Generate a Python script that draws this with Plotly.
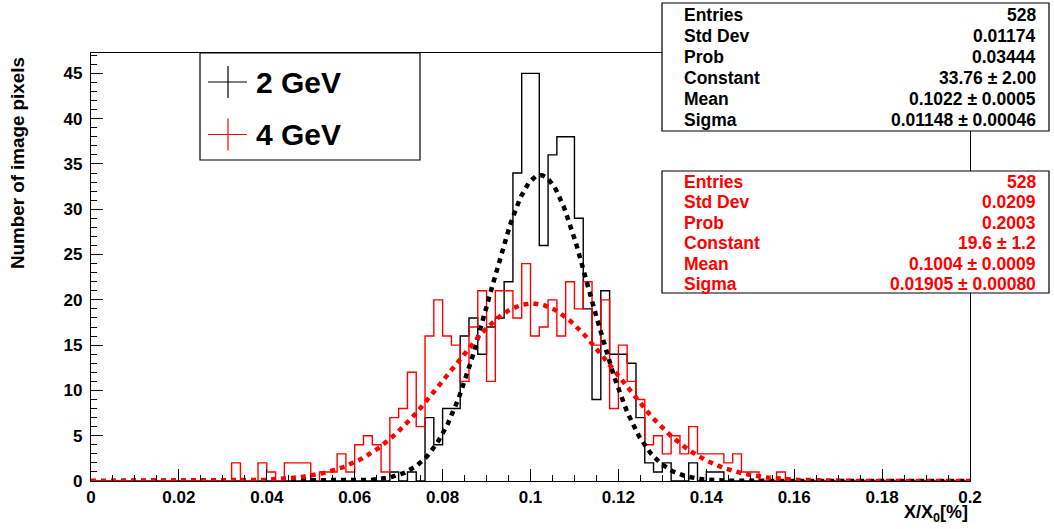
import numpy as np
import plotly.graph_objects as go

# ---------------- data ----------------
bin_lo, bin_hi, n_bins = 0.0, 0.2, 100

counts_2gev = [
    0, 0, 0, 0, 0, 0, 0, 0, 0, 0,
    0, 0, 0, 0, 0, 0, 0, 0, 0, 0,
    0, 0, 0, 0, 0, 0, 0, 0, 0, 0,
    0, 0, 0, 0, 1, 0, 1, 0, 7, 4,
    8, 8, 16, 18, 14, 17, 18, 22, 34, 45,
    45, 26, 36, 38, 38, 29, 19, 9, 21, 14,
    14, 13, 7, 2, 1, 2, 0, 0, 2, 0,
    1, 1, 0, 0, 0, 0, 0, 0, 0, 0,
    0, 0, 0, 0, 0, 0, 0, 0, 0, 0,
    0, 0, 0, 0, 0, 0, 0, 0, 0, 0,
]
counts_4gev = [
    0, 0, 0, 0, 0, 0, 0, 0, 0, 0,
    0, 0, 0, 0, 0, 0, 2, 0, 0, 2,
    1, 0, 2, 2, 2, 0, 1, 1, 3, 1,
    4, 5, 4, 1, 7, 8, 12, 6, 16, 20,
    16, 15, 11, 17, 21, 11, 21, 21, 18, 24,
    16, 17, 20, 16, 22, 19, 22, 15, 20, 8,
    15, 11, 9, 4, 5, 3, 5, 3, 6, 3,
    3, 3, 2, 3, 1, 1, 0, 0, 1, 0,
    0, 0, 0, 0, 0, 0, 0, 0, 0, 0,
    0, 0, 0, 0, 0, 0, 0, 0, 0, 0,
]

# Gaussian fit parameters (from stat boxes)
fit_2gev = {"const": 33.76, "mean": 0.1022, "sigma": 0.01148}
fit_4gev = {"const": 19.6, "mean": 0.1004, "sigma": 0.01905}

series_names = ["2 GeV", "4 GeV"]

PM = " \u00b1 "
stat_labels = ["Entries", "Std Dev", "Prob", "Constant", "Mean", "Sigma"]
stat_values_2gev = ["528", "0.01174", "0.03444", "33.76" + PM + "2.00",
                    "0.1022" + PM + "0.0005", "0.01148" + PM + "0.00046"]
stat_values_4gev = ["528", "0.0209", "0.2003", "19.6" + PM + "1.2",
                    "0.1004" + PM + "0.0009", "0.01905" + PM + "0.00080"]

x_tick_vals = [0, 0.02, 0.04, 0.06, 0.08, 0.1, 0.12, 0.14, 0.16, 0.18, 0.2]
x_tick_text = ["0", "0.02", "0.04", "0.06", "0.08", "0.1", "0.12", "0.14",
               "0.16", "0.18", "0.2"]
y_tick_vals = [0, 5, 10, 15, 20, 25, 30, 35, 40, 45]

y_max = 47.25

# ---------------- layout geometry ----------------
W, H = 1054, 529
L, R, T, B = 91, 970, 53, 481
FONT = "Liberation Sans"
RED = "#ff0000"


def px_x(p):
    return (p - L) / (R - L)


def px_y(p):
    return (B - p) / (B - T)


edges = np.linspace(bin_lo, bin_hi, n_bins + 1)


def step_xy(counts):
    return list(edges), list(counts) + [counts[-1]]


def gauss(par):
    xs = np.linspace(bin_lo, bin_hi, 600)
    ys = par["const"] * np.exp(-0.5 * ((xs - par["mean"]) / par["sigma"]) ** 2)
    return xs, ys


fig = go.Figure()

for counts, color, name in [
    (counts_2gev, "black", series_names[0]),
    (counts_4gev, RED, series_names[1]),
]:
    hx, hy = step_xy(counts)
    fig.add_trace(go.Scatter(x=hx, y=hy, mode="lines", line_shape="hv",
                             line=dict(color=color, width=1.4), name=name,
                             showlegend=False))
for fit, color in [(fit_2gev, "black"), (fit_4gev, RED)]:
    fx, fy = gauss(fit)
    fig.add_trace(go.Scatter(x=fx, y=fy, mode="lines",
                             line=dict(color=color, width=4.5, dash="5px,5px"),
                             showlegend=False, hoverinfo="skip"))

shapes = []
annotations = []

stat_rows_2gev = [15, 35.7, 56.7, 78, 99.3, 119.5]
stat_rows_4gev = [182.3, 201.7, 222.7, 243.3, 264, 283.5]

# stat boxes
for (top, bot, vals, rows, col) in [(3, 131, stat_values_2gev, stat_rows_2gev, "black"),
                                    (171, 293, stat_values_4gev, stat_rows_4gev, RED)]:
    shapes.append(dict(type="rect", xref="paper", yref="paper",
                       x0=px_x(662), x1=px_x(1049), y0=px_y(bot), y1=px_y(top),
                       line=dict(color="black", width=1.2), fillcolor="white",
                       layer="above"))
    for lab, val, yc in zip(stat_labels, vals, rows):
        annotations.append(dict(xref="paper", yref="paper", x=px_x(682), y=px_y(yc),
                                xanchor="left", yanchor="middle", showarrow=False,
                                text=lab, font=dict(family=FONT, size=17.5, color=col,
                                                    weight="bold")))
        annotations.append(dict(xref="paper", yref="paper", x=px_x(1038), y=px_y(yc),
                                xanchor="right", yanchor="middle", showarrow=False,
                                text=val, font=dict(family=FONT, size=17.5, color=col,
                                                    weight="bold")))

# legend box
shapes.append(dict(type="rect", xref="paper", yref="paper",
                   x0=px_x(200), x1=px_x(420), y0=px_y(160), y1=px_y(53),
                   line=dict(color="black", width=1.2), fillcolor="white",
                   layer="above"))
for (yc, col, name) in [(82, "black", series_names[0]), (134.5, RED, series_names[1])]:
    shapes.append(dict(type="line", xref="paper", yref="paper",
                       x0=px_x(208), x1=px_x(247), y0=px_y(yc), y1=px_y(yc),
                       line=dict(color=col, width=1.2), layer="above"))
    shapes.append(dict(type="line", xref="paper", yref="paper",
                       x0=px_x(228), x1=px_x(228), y0=px_y(yc - 16), y1=px_y(yc + 16),
                       line=dict(color=col, width=1.2), layer="above"))
    annotations.append(dict(xref="paper", yref="paper", x=px_x(254), y=px_y(yc),
                            xanchor="left", yanchor="middle", showarrow=False,
                            text=name, font=dict(family=FONT, size=30, color="black",
                                                 weight="bold")))

# axis titles
annotations.append(dict(xref="paper", yref="paper", x=px_x(18), y=px_y(55),
                        xanchor="center", yanchor="top", textangle=-90,
                        showarrow=False, text="Number of image pixels",
                        font=dict(family=FONT, size=18.8, color="black", weight="bold")))
annotations.append(dict(xref="paper", yref="paper", x=px_x(970), y=px_y(513),
                        xanchor="right", yanchor="middle", showarrow=False,
                        text="X/X<sub>0</sub>[%]",
                        font=dict(family=FONT, size=18, color="black", weight="bold")))

fig.update_layout(
    width=W, height=H,
    margin=dict(l=L, r=W - R, t=T, b=H - B, pad=0),
    paper_bgcolor="white", plot_bgcolor="white",
    showlegend=False,
    shapes=shapes, annotations=annotations,
    xaxis=dict(range=[bin_lo, bin_hi], showgrid=False, zeroline=False,
               showline=True, mirror=True, linecolor="black", linewidth=1.2,
               ticks="inside", ticklen=12, tickcolor="black", tickwidth=1,
               tickvals=x_tick_vals, ticktext=x_tick_text,
               minor=dict(ticks="inside", ticklen=6, dtick=0.005, tick0=0,
                          tickcolor="black", showgrid=False),
               tickfont=dict(family=FONT, size=17, color="black", weight="bold")),
    yaxis=dict(range=[0, y_max], showgrid=False, zeroline=False,
               showline=True, mirror=True, linecolor="black", linewidth=1.2,
               ticks="inside", ticklen=12, tickcolor="black", tickwidth=1,
               tickvals=y_tick_vals,
               minor=dict(ticks="inside", ticklen=6, dtick=1, tick0=0,
                          tickcolor="black", showgrid=False),
               ticklabelstandoff=4,
               tickfont=dict(family=FONT, size=17, color="black", weight="bold")),
)

fig.write_html("out.html",
               config={"displayModeBar": False},
               post_script="document.body.style.margin='0';"
                           "document.body.style.overflow='hidden';")
